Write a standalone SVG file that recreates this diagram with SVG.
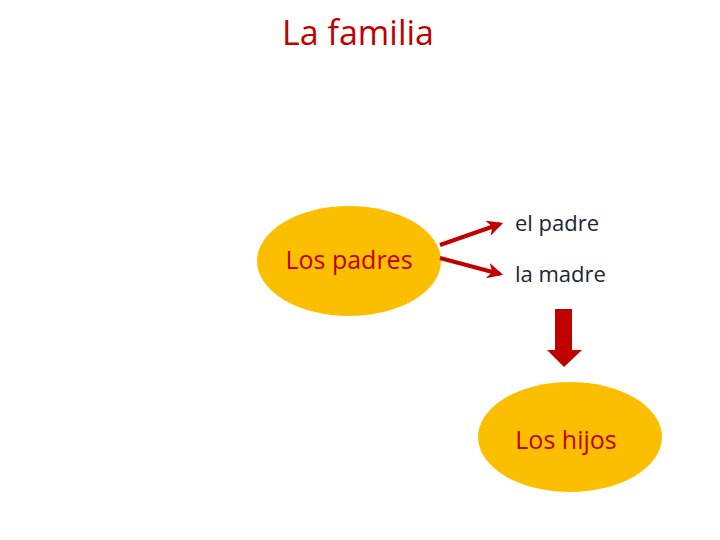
<svg xmlns="http://www.w3.org/2000/svg" width="720" height="540" viewBox="0 0 720 540">
<style>
.n{fill:#fcbf00}
.r{fill:#c00000;font-family:"Open Sans","Liberation Sans",sans-serif;font-size:25px}
.d{fill:#1a2535;font-family:"Open Sans","Liberation Sans",sans-serif;font-size:22px}
.c{stroke:#c00000;stroke-width:4;fill:none;marker-end:url(#a)}
</style>
<defs><marker id="a" viewBox="0 0 10 10" refX="8" refY="5" markerWidth="4" markerHeight="4" orient="auto"><path d="M0,0 L10,5 L0,10 L3,5 Z" fill="#c00000"/></marker></defs>
<rect width="720" height="540" fill="#fff"/>
<text x="358" y="45" text-anchor="middle" class="r" style="font-size:34px">La familia</text>
<g id="padres"><ellipse class="n" cx="349" cy="261" rx="92" ry="55"/><text class="r" x="349" y="269" text-anchor="middle">Los padres</text></g>
<g id="padre"><text class="d" x="515" y="231">el padre</text></g>
<g id="madre"><text class="d" x="515" y="282">la madre</text></g>
<g id="hijos"><ellipse class="n" cx="570" cy="437" rx="92" ry="55"/><text class="r" x="566" y="449" text-anchor="middle">Los hijos</text></g>
<g id="connectors">
<path class="c" d="M440,245 L500,224"/>
<path class="c" d="M440,258 L500,274"/>
<path d="M555,309 H572 V350 H582 L564,367 L547,350 H555 Z" fill="#c00000"/>
</g>
</svg>
